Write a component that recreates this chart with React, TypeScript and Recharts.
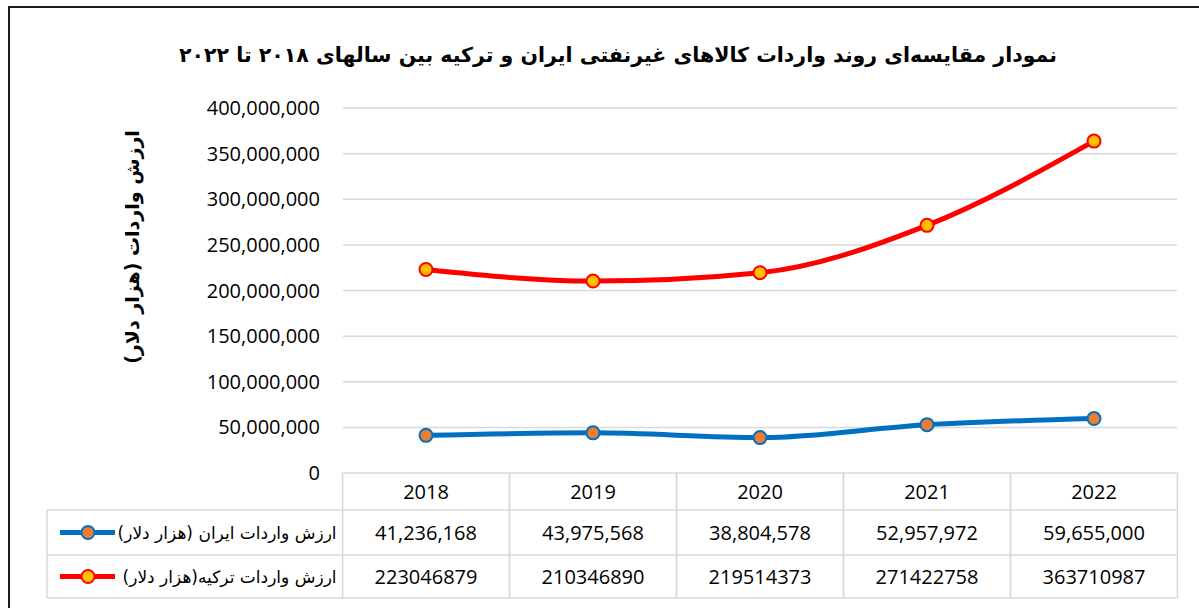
import React from 'react';
import { LineChart, Line, XAxis, YAxis, CartesianGrid } from 'recharts';

const years = ['2018', '2019', '2020', '2021', '2022'];
const iranValues = [41236168, 43975568, 38804578, 52957972, 59655000];
const turkeyValues = [223046879, 210346890, 219514373, 271422758, 363710987];
const yTicks = [0, 50000000, 100000000, 150000000, 200000000, 250000000, 300000000, 350000000, 400000000];
const iranName = 'ارزش واردات ایران (هزار دلار)';
const turkeyName = 'ارزش واردات ترکیه(هزار دلار)';
const titleText = 'نمودار مقایسه‌ای روند واردات کالاهای غیرنفتی ایران و ترکیه بین سالهای ۲۰۱۸ تا ۲۰۲۲';
const yLabelText = 'ارزش واردات (هزار دلار)';

const data = years.map((y, i) => ({ year: y, iran: iranValues[i], turkey: turkeyValues[i] }));

const fmt = (v: number) => v.toLocaleString('en-US');

const BLUE = '#0070C0';
const ORANGE = '#ED7D31';
const RED = '#FF0000';
const GOLD = '#FFC000';
const GRID = '#d9d9d9';
const NUM_FONT = '"Open Sans", sans-serif';
const FA_FONT = '"DejaVu Sans", sans-serif';

const COL_HALF = 83.4;
const H_HEAD = 37;
const H_ROW1 = 45;
const H_ROW2 = 43;
const LEG_LEFT = 39;

const TableTick = (props: any) => {
  const { x, y, index, payload } = props;
  const top = y;
  const r1 = top + H_HEAD;
  const r2 = r1 + H_ROW1;
  const r3 = r2 + H_ROW2;
  const l = x - COL_HALF;
  const rr = x + COL_HALF;
  const i = index;
  const lineProps = { stroke: GRID, strokeWidth: 1.5 };
  return (
    <g>
      <line x1={l} x2={rr} y1={r1} y2={r1} {...lineProps} />
      <line x1={l} x2={rr} y1={r2} y2={r2} {...lineProps} />
      <line x1={l} x2={rr} y1={r3} y2={r3} {...lineProps} />
      <line x1={l} x2={l} y1={top} y2={r3} {...lineProps} />
      <line x1={rr} x2={rr} y1={top} y2={r3} {...lineProps} />
      <text x={x} y={top + H_HEAD / 2} textAnchor="middle" dominantBaseline="central" fontFamily={NUM_FONT} fontSize={20} fill="#000">
        {payload.value}
      </text>
      <text x={x} y={r1 + H_ROW1 / 2} textAnchor="middle" dominantBaseline="central" fontFamily={NUM_FONT} fontSize={20} fill="#000">
        {fmt(iranValues[i])}
      </text>
      <text x={x} y={r2 + H_ROW2 / 2} textAnchor="middle" dominantBaseline="central" fontFamily={NUM_FONT} fontSize={20} fill="#000">
        {String(turkeyValues[i])}
      </text>
      {i === 0 && (
        <g>
          <line x1={LEG_LEFT} x2={l} y1={r1} y2={r1} {...lineProps} />
          <line x1={LEG_LEFT} x2={l} y1={r2} y2={r2} {...lineProps} />
          <line x1={LEG_LEFT} x2={l} y1={r3} y2={r3} {...lineProps} />
          <line x1={LEG_LEFT} x2={LEG_LEFT} y1={r1} y2={r3} {...lineProps} />
          <line x1={52} x2={107} y1={r1 + H_ROW1 / 2} y2={r1 + H_ROW1 / 2} stroke={BLUE} strokeWidth={5} />
          <circle cx={80} cy={r1 + H_ROW1 / 2} r={6.5} fill={ORANGE} stroke={BLUE} strokeWidth={2} />
          <text x={l - 6} y={r1 + H_ROW1 / 2} direction="rtl" textAnchor="start" dominantBaseline="central" fontFamily={FA_FONT} fontSize={17} fill="#000">
            {iranName}
          </text>
          <line x1={52} x2={107} y1={r2 + H_ROW2 / 2} y2={r2 + H_ROW2 / 2} stroke={RED} strokeWidth={5} />
          <circle cx={80} cy={r2 + H_ROW2 / 2} r={6.5} fill={GOLD} stroke={RED} strokeWidth={2} />
          <text x={l - 6} y={r2 + H_ROW2 / 2} direction="rtl" textAnchor="start" dominantBaseline="central" fontFamily={FA_FONT} fontSize={17} fill="#000">
            {turkeyName}
          </text>
        </g>
      )}
    </g>
  );
};

export default function App() {
  return (
    <div
      style={{
        position: 'absolute',
        top: 6,
        left: 8,
        width: 1191,
        height: 602,
        borderTop: '2px solid #1a1a1a',
        borderLeft: '2px solid #1a1a1a',
        boxSizing: 'border-box',
        overflow: 'visible',
      }}
    >
      <div style={{ position: 'absolute', left: -2, top: 0 }}>
        <LineChart width={1191} height={600} data={data} margin={{ top: 100, right: 22, bottom: 0, left: 0 }}>
          <CartesianGrid vertical={false} stroke={GRID} strokeWidth={1.5} />
          <XAxis
            dataKey="year"
            padding={{ left: 83, right: 83 }}
            axisLine={false}
            tickLine={false}
            tickSize={0}
            tickMargin={0}
            height={135}
            interval={0}
            tick={<TableTick />}
          />
          <YAxis
            width={335}
            domain={[0, 400000000]}
            ticks={yTicks}
            tickFormatter={fmt}
            axisLine={false}
            tickLine={false}
            tickSize={0}
            tickMargin={23}
            tick={{ fontSize: 20, fill: '#000', fontFamily: NUM_FONT }}
          />
          <Line
            dataKey="turkey"
            type="monotone"
            stroke={RED}
            strokeWidth={5}
            dot={{ r: 6.5, fill: GOLD, stroke: RED, strokeWidth: 2 }}
            isAnimationActive={false}
          />
          <Line
            dataKey="iran"
            type="monotone"
            stroke={BLUE}
            strokeWidth={5}
            dot={{ r: 6.5, fill: ORANGE, stroke: BLUE, strokeWidth: 2 }}
            isAnimationActive={false}
          />
        </LineChart>
      </div>
      <svg width={1191} height={600} style={{ position: 'absolute', left: -2, top: 0, pointerEvents: 'none' }}>
        <text x={610} y={47} direction="rtl" textAnchor="middle" dominantBaseline="central" fontFamily={FA_FONT} fontWeight="bold" fontSize={20.5} fill="#000">
          {titleText}
        </text>
        <text
          x={124}
          y={239}
          direction="rtl"
          textAnchor="middle"
          dominantBaseline="central"
          fontFamily={FA_FONT}
          fontWeight="bold"
          fontSize={19}
          fill="#000"
          transform="rotate(-90, 124, 239)"
        >
          {yLabelText}
        </text>
      </svg>
    </div>
  );
}
